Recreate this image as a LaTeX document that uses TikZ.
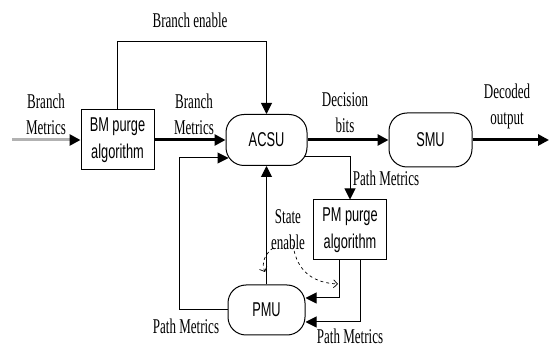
\documentclass[tikz,border=0pt]{standalone}
\usepackage{fontspec}
\newfontfamily\labfont[FakeStretch=0.62]{Liberation Serif}
\newfontfamily\boxfont[FakeStretch=0.64]{Liberation Sans}
\usetikzlibrary{arrows.meta,calc}
\begin{document}
\begin{tikzpicture}[x=1pt,y=-1pt,
  blk/.style={draw,line width=1pt,minimum width=73pt,minimum height=60pt,inner sep=0pt,align=center,font=\boxfont\fontsize{20}{27}\selectfont},
  unit/.style={draw,line width=1pt,rounded corners=18pt,inner sep=0pt,font=\boxfont\fontsize{20}{24}\selectfont},
  lab/.style={align=center,inner sep=0pt,font=\labfont\fontsize{21}{26}\selectfont},
  tip/.style={-{Triangle[length=11pt,width=11pt]}},
  thinarr/.style={line width=1pt,tip},
  thickarr/.style={line width=3pt,tip},
  dasharr/.style={dashed,line width=0.7pt,-{Straight Barb[length=4pt,width=8pt]}}]
\useasboundingbox (0,0) rectangle (549,347);
% blocks
\node[blk] (bm) at (117.5,140) {BM purge\\algorithm};
\node[unit,minimum width=81pt,minimum height=51pt] (acsu) at (266.5,140) {ACSU};
\node[unit,minimum width=83pt,minimum height=54pt] (smu) at (430.5,140) {SMU};
\node[blk] (pm) at (350,230) {PM purge\\algorithm};
\node[unit,minimum width=77pt,minimum height=50pt] (pmu) at (266.5,310) {PMU};
% free ends / corners
\coordinate (in) at (12,140);
\coordinate (out) at (549,140);
\coordinate (be) at (266.5,42);
\coordinate (lp) at (179,310);
% labels
\node[lab] (lbe) at (190,20) {Branch enable};
\node[lab] (lbm1) at (46,114) {Branch\\Metrics};
\node[lab] (lbm2) at (194,114) {Branch\\Metrics};
\node[lab] (ldb) at (345,113) {Decision\\bits};
\node[lab] (ldo) at (507,106) {Decoded\\output};
\node[lab] (lpm1) at (386,178) {Path Metrics};
\node[lab] (lse) at (288,230) {State\\enable};
\node[lab] (lpm2) at (186,326) {Path Metrics};
\node[lab] (lpm3) at (350,336) {Path Metrics};
% connectors
\draw[line width=3pt,gray!60,-{Triangle[length=11pt,width=11pt,color=black]}] (in) -- (bm.west);
\draw[thickarr] (bm.east) -- (acsu.west);
\draw[thickarr] (acsu.east) -- (smu.west);
\draw[thickarr] (smu.east) -- (out);
\draw[thinarr] (bm.north) |- (be) -- (acsu.north);
\draw[thinarr] (pmu.west) -- (lp) |- ([xshift=3pt,yshift=-18pt]acsu.west);
\draw[thinarr] ([xshift=-3pt,yshift=-17pt]acsu.east) -| (pm.north);
\draw[thinarr] ([xshift=-11pt]pm.south) |- ([yshift=12pt]pmu.east);
\draw[thinarr] ([xshift=10pt]pm.south) |- ([yshift=-12pt]pmu.east);
\draw[thinarr] (pmu.north) -- (acsu.south);
\draw[dasharr] (273,248) .. controls (265,254) and (261,263) .. (265,272);
\draw[dasharr] (293,245) .. controls (297,273) and (315,283) .. (338,284);
\end{tikzpicture}
\end{document}
